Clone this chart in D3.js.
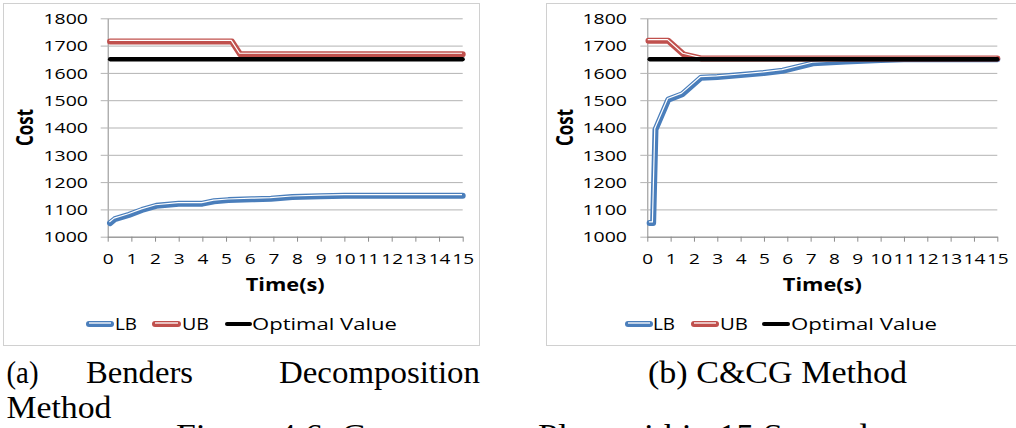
<!DOCTYPE html>
<html><head><meta charset="utf-8">
<script src="https://cdn.jsdelivr.net/npm/d3@7"></script>
<style>html,body{margin:0;padding:0;background:#fff;} svg{display:block}</style>
</head><body>
<svg id="c" width="1016" height="428"></svg>
<script>
// ---------- data ----------
const xTicks = [0,1,2,3,4,5,6,7,8,9,10,11,12,13,14,15];
const yTicks = [1000,1100,1200,1300,1400,1500,1600,1700,1800];
const seriesNames = ["LB","UB","Optimal Value"];

// (a) Benders decomposition
const bdLBTime = [0.1, 0.3, 0.9, 1.45, 2.05, 3.0, 4.0, 4.5, 5.1, 6.1, 6.9, 7.8, 9.0, 10, 15];
const bdLBCost = [1050,1064,1080,1098,1113,1121,1121,1130,1134,1137,1139,1145,1148,1150,1150];
const bdUBTime = [0.1, 5.25, 5.6, 15];
const bdUBCost = [1715, 1715, 1668, 1668];
const bdOptTime = [0.1, 15];
const bdOptCost = [1650, 1650];

// (b) C&CG
const ccLBTime = [0.1, 0.25, 0.35, 0.9, 1.5, 2.3, 3.0, 4.0, 5.0, 5.8, 7.1, 8.5, 10, 11, 15];
const ccLBCost = [1050,1050,1392,1502,1522,1582,1585,1592,1600,1608,1635,1642,1647,1650,1650];
const ccUBTime = [0.05, 0.9, 1.55, 2.3, 15];
const ccUBCost = [1718, 1718, 1668, 1653, 1653];
const ccOptTime = [0.1, 15];
const ccOptCost = [1650, 1650];

const yLabel = "Cost";
const xLabel = "Time(s)";
const captionA = ["(a)", "Benders", "Decomposition"];
const captionA2 = "Method";
const captionB = "(b) C&CG Method";
const figureCaption = "Figure 4.6: Convergence Plots within 15 Seconds";

// ---------- drawing ----------
const svg = d3.select("#c");
const colors = {LB:"#4a7ebb", UB:"#c0504d", Opt:"#000000"};
const SX = 1.3;
const sans = "'Open Sans', sans-serif";
const zip = (t, v) => t.map((d,i) => ({t:d, v:v[i]}));

const panels = [
  {box:[3.5,3.5,476,342], x0:107.7, x1:462.7, labRight:88, costX:25,
   lb:zip(bdLBTime,bdLBCost), ub:zip(bdUBTime,bdUBCost), opt:zip(bdOptTime,bdOptCost),
   leg:[[87,113,115,22],[153,180,182,27],[227,250,252,145]]},
  {box:[546.5,3.5,480,342], x0:647.3, x1:997.3, labRight:627, costX:565,
   lb:zip(ccLBTime,ccLBCost), ub:zip(ccUBTime,ccUBCost), opt:zip(ccOptTime,ccOptCost),
   leg:[[626,652,653,22],[692,718,720,28],[764,788,791,146]]}
];
const yTop = 18.3, yBot = 236.7;

panels.forEach(p => {
  const g = svg.append("g");
  g.append("rect").attr("x",p.box[0]).attr("y",p.box[1]).attr("width",p.box[2]).attr("height",p.box[3])
    .attr("fill","#fff").attr("stroke","#d0d0d0").attr("stroke-width",1);

  const x = d3.scaleLinear().domain([0,15]).range([p.x0,p.x1]);
  const y = d3.scaleLinear().domain([1000,1800]).range([yBot,yTop]);
  const w = p.x1 - p.x0;

  // y axis with gridlines
  const ya = g.append("g").attr("transform",`translate(${p.x0},0)`)
    .call(d3.axisLeft(y).tickValues(yTicks).tickSizeOuter(0).tickFormat(d3.format("d")));
  ya.select(".domain").attr("stroke","#8c8c8c");
  ya.selectAll(".tick line").attr("x1",-7).attr("x2",w).attr("stroke","#b3b3b3");
  ya.selectAll(".tick text").attr("x",(p.labRight-p.x0)/SX).attr("dy",null).attr("y",5.2)
    .attr("transform",`scale(${SX},1)`).attr("text-anchor","end")
    .style("font-family",sans).style("font-size","15px").attr("fill","#000");

  // x axis
  const xa = g.append("g").attr("transform",`translate(0,${yBot})`)
    .call(d3.axisBottom(x).tickValues(xTicks).tickSize(5).tickSizeOuter(0).tickFormat(d3.format("d")));
  xa.select(".domain").attr("stroke","#8c8c8c");
  xa.selectAll(".tick line").attr("stroke","#8c8c8c");
  xa.selectAll(".tick text").attr("y",27.5).attr("dy",null).attr("transform",`scale(1.27,1)`)
    .style("font-family",sans).style("font-size","15px").attr("fill","#000");

  // axis titles
  g.append("text").attr("x",(p.x0+p.x1)/2).attr("y",290.5).attr("text-anchor","middle")
    .attr("textLength",79).attr("lengthAdjust","spacingAndGlyphs")
    .style("font-family",sans).style("font-size","18px").style("font-weight","bold").text(xLabel);
  g.append("g").attr("transform",`translate(${p.costX},127.5) scale(1.33,1) rotate(-90)`)
    .append("text").attr("x",0).attr("y",6).attr("text-anchor","middle")
    .style("font-family",sans).style("font-size","17px").style("font-weight","bold").text(yLabel);

  // lines
  const line = d3.line().x(d=>x(d.t)).y(d=>y(d.v));
  const dbl = (data, col) => {
    g.append("path").attr("d",line(data)).attr("fill","none").attr("stroke",col)
      .attr("stroke-width",6).attr("stroke-linejoin","round").attr("stroke-linecap","round");
    g.append("path").attr("d",line(data)).attr("fill","none").attr("stroke","#fff")
      .attr("stroke-width",1.2).attr("stroke-linejoin","round").attr("transform","translate(-0.7,-1.1)");
  };
  dbl(p.lb, colors.LB);
  dbl(p.ub, colors.UB);
  g.append("path").attr("d",line(p.opt)).attr("fill","none").attr("stroke",colors.Opt)
    .attr("stroke-width",4.3).attr("stroke-linecap","round");

  // legend
  const ly = 324;
  const keys = ["LB","UB","Opt"];
  p.leg.forEach((L,i) => {
    const k = keys[i];
    if (k === "Opt") {
      g.append("line").attr("x1",L[0]).attr("x2",L[1]).attr("y1",ly).attr("y2",ly)
        .attr("stroke","#000").attr("stroke-width",4).attr("stroke-linecap","round");
    } else {
      g.append("line").attr("x1",L[0]+2).attr("x2",L[1]-2).attr("y1",ly).attr("y2",ly)
        .attr("stroke",colors[k]).attr("stroke-width",6).attr("stroke-linecap","round");
      g.append("line").attr("x1",L[0]+2).attr("x2",L[1]-2).attr("y1",ly-1).attr("y2",ly-1)
        .attr("stroke","#fff").attr("stroke-width",1.3);
    }
    g.append("text").attr("x",L[2]).attr("y",329.5).attr("textLength",L[3]).attr("lengthAdjust","spacingAndGlyphs")
      .style("font-family",sans).style("font-size","15.5px").attr("fill","#000").text(seriesNames[i]);
  });
});

// captions
const serif = "'Liberation Serif', 'Times New Roman', serif";
const cap = (x, y, s, len) => svg.append("text").attr("x",x).attr("y",y)
  .attr("textLength",len).attr("lengthAdjust","spacingAndGlyphs")
  .style("font-family",serif).style("font-size","32px").attr("fill","#000").text(s);
cap(6.5, 383, captionA[0], 32);
cap(86, 383, captionA[1], 107);
cap(279, 383, captionA[2], 201);
cap(6.5, 417.5, captionA2, 105);
cap(648, 383, captionB, 259);
cap(176, 446, figureCaption, 706);
</script>
</body></html>
